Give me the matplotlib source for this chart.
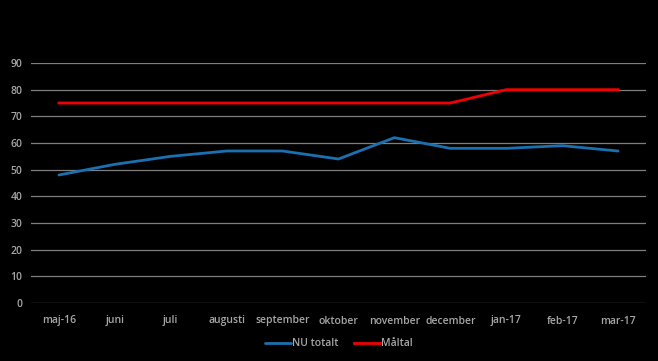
import matplotlib
matplotlib.use("Agg")
import matplotlib.pyplot as plt

categories = ["maj-16", "juni", "juli", "augusti", "september", "oktober",
              "november", "december", "jan-17", "feb-17", "mar-17"]
nu_totalt = [48, 52, 55, 57, 57, 54, 62, 58, 58, 59, 57]
maltal = [75, 75, 75, 75, 75, 75, 75, 75, 80, 80, 80]
yticks = [0, 10, 20, 30, 40, 50, 60, 70, 80, 90]

plt.rcParams['font.family'] = ['Open Sans', 'DejaVu Sans']
txt = '#a6a6a6'

fig = plt.figure(figsize=(6.58, 3.61), dpi=100, facecolor='black')
ax = fig.add_axes([31/658, 1 - 303/361, 615/658, 240/361], facecolor='black')

x = list(range(len(categories)))
ax.plot(x, nu_totalt, color='#1a70b0', lw=2.0, label='NU totalt', solid_capstyle='round')
ax.plot(x, maltal, color='#f00000', lw=2.0, label='Måltal')

ax.set_xlim(-0.5, len(categories) - 0.5)
ax.set_ylim(0, 90)
ax.set_yticks(yticks)
ax.set_xticks(x)
ax.set_xticklabels(categories)
ax.grid(axis='y', color='#7f7f7f', lw=0.9)
ax.set_axisbelow(True)
for s in ax.spines.values():
    s.set_visible(False)
ax.tick_params(length=0, colors=txt, labelsize=7.5)
ax.tick_params(axis='x', pad=9)
ax.tick_params(axis='y', pad=6)
for lab in ax.get_xticklabels() + ax.get_yticklabels():
    lab.set_fontweight('semibold')

leg = ax.legend(loc='center', bbox_to_anchor=(0.5, -0.17), ncol=2, frameon=False,
                fontsize=7.5, handlelength=2.5, handletextpad=0.1, columnspacing=1.5)
for t in leg.get_texts():
    t.set_color(txt)
    t.set_fontweight('semibold')

fig.savefig('out.png', dpi=100, facecolor='black')
